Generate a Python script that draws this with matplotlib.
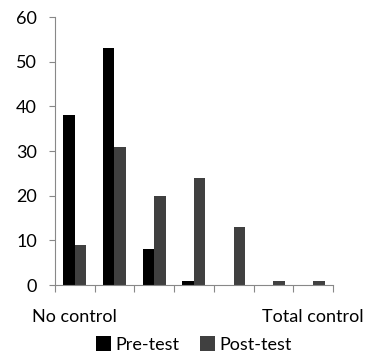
import numpy as np
import matplotlib
matplotlib.use('Agg')
import matplotlib.pyplot as plt

plt.rcParams['font.family'] = ['Lato', 'DejaVu Sans']

categories = ['No control', '', '', '', '', '', 'Total control']
pre_test = [38, 53, 8, 1, 0, 0, 0]
post_test = [9, 31, 20, 24, 13, 1, 1]

fig = plt.figure(figsize=(3.68, 3.55), dpi=100)
ax = fig.add_axes([0.149, 0.197, 0.756, 0.755])

x = np.arange(len(categories))
w = 0.29
ax.bar(x - w/2, pre_test, w, color='black', label='Pre-test')
ax.bar(x + w/2, post_test, w, color='#404040', label='Post-test')

ax.set_xlim(-0.5, len(categories) - 0.5)
ax.set_ylim(0, 60)
ax.set_yticks(np.arange(0, 61, 10))
ax.tick_params(axis='y', labelsize=13, length=4, color='#888888', pad=9)

# category separators as major ticks, labels on minor ticks
ax.set_xticks(np.arange(-0.5, len(categories), 1.0), minor=False)
ax.set_xticklabels([])
ax.tick_params(axis='x', length=5, color='#888888')
ax.set_xticks(x, minor=True)
ax.set_xticklabels(categories, minor=True, fontsize=13)
ax.tick_params(axis='x', which='minor', length=0, pad=17)

for s in ['top', 'right']:
    ax.spines[s].set_visible(False)
for s in ['left', 'bottom']:
    ax.spines[s].set_color('#888888')

handles, labels = ax.get_legend_handles_labels()
fig.legend(handles, labels, loc='center', bbox_to_anchor=(0.527, 0.03), ncol=2, frameon=False,
           fontsize=13, handlelength=0.85, handleheight=0.85, handletextpad=0.25,
           columnspacing=1.1, borderpad=0)

fig.savefig('out.png', dpi=100)
